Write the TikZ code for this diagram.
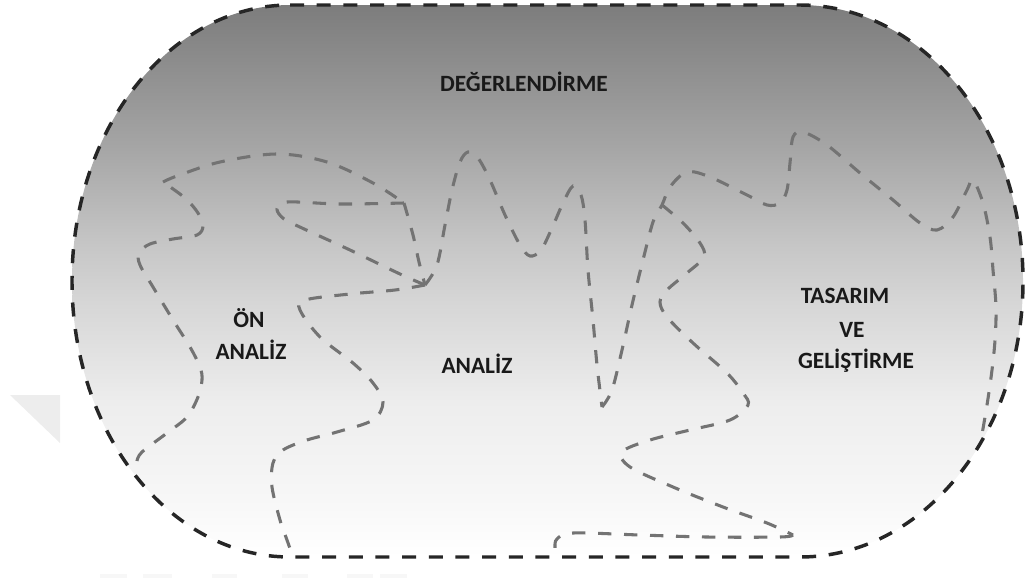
\documentclass[tikz,border=0pt]{standalone}
\usepackage{fontspec}
\setmainfont{Carlito}

% grey-to-white vertical fill of the stadium
\pgfdeclareverticalshading{stadiumfill}{100bp}{%
  color(0bp)=(white); color(25bp)=(white); color(30bp)=(black!3);
  color(39bp)=(black!7); color(48bp)=(black!16); color(53bp)=(black!22);
  color(62bp)=(black!35); color(74bp)=(black!50); color(75bp)=(black!51);
  color(100bp)=(black!51)}

% outline of the rounded (stadium) frame, in pixel-like units
\newcommand\stadiumoutline{(290,5) -- (800,5)
  arc[start angle=-90, end angle=90, x radius=223, y radius=276] -- (290,557)
  arc[start angle=90, end angle=270, x radius=218, y radius=276] -- cycle}

\tikzset{
  rim/.style={draw=black!85, line width=2.6pt, dash pattern=on 10.5pt off 9.5pt},
  trail/.style={draw=black!55, line width=2.3pt, dash pattern=on 10pt off 9.5pt,
                smooth, tension=0.55},
  lbl/.style={font=\bfseries\fontsize{17.5}{21}\selectfont, text=black!90,
              inner sep=0pt, anchor=base},
  faint/.style={fill=black!7, draw=none},
}

\begin{document}
\begin{tikzpicture}[x=0.75pt, y=-0.75pt]
\useasboundingbox (0,0) rectangle (1027,578);

% faint background marks
\fill[faint] (10,395) -- (60,395) -- (60,443) -- cycle;
\foreach \a/\b in {100/127,143/172,212/237,282/308,347/373,380/407}
  \fill[black!3] (\a,574) rectangle (\b,578);

% frame fill
\shade[shading=stadiumfill] \stadiumoutline;

% junction points of the region borders
\coordinate (kA) at (163,182);
\coordinate (kB) at (404,203);
\coordinate (kJ) at (425,285);
\coordinate (kV) at (602,407);
\coordinate (kS) at (662,205);
\coordinate (kT) at (793,535);

% region borders (grey dashed)
\draw[trail] plot coordinates {(137,461) (142,452) (167,433) (187,417) (198,397)
  (202,380) (200,367) (190,347) (173,320) (153,287) (140,265) (139,253) (150,244)
  (173,239) (197,235) (203,226) (198,213) (185,198) (kA)};
\draw[trail] plot coordinates {(kA) (177,176) (220,162) (277,154) (327,162)
  (373,183) (kB)};
\draw[trail] plot coordinates {(kB) (340,204) (287,202) (277,209) (284,219)
  (302,228) (350,250) (400,274) (kJ)};
\draw[trail] plot coordinates {(kB) (413,235) (419,262) (kJ)};
\draw[trail] plot coordinates {(kJ) (395,290) (350,294) (305,300) (300,310)
  (320,337) (353,363) (373,383) (383,402) (373,420) (337,432) (307,440) (283,450)
  (273,463) (272,487) (280,520) (287,540) (293,557)};
\draw[trail] plot coordinates {(kJ) (437,265) (445,225) (452,190) (460,162)
  (468,152) (478,158) (490,180) (505,215) (520,245) (530,256) (541,250) (552,228)
  (563,203) (573,186) (581,195) (585,220) (588,270) (593,320) (597,365) (kV)};
\draw[trail] plot coordinates {(kV) (612,390) (622,350) (632,305) (643,260)
  (653,222) (kS) (670,187) (687,172) (710,177) (747,195) (767,205) (780,203)
  (787,190) (790,163) (793,137) (803,132) (827,145) (860,173) (893,200) (920,223)
  (937,230) (953,217) (967,190) (973,180) (983,203) (990,237) (993,270) (996,307)
  (995,340) (992,370) (987,405) (981,440)};
\draw[trail] plot coordinates {(kS) (683,223) (700,243) (704,257) (687,273)
  (667,290) (660,302) (667,317) (693,343) (727,373) (743,393) (748,405) (730,420)
  (690,430) (650,440) (622,452) (630,467) (673,487) (723,507) (767,523) (kT)};
\draw[trail] plot coordinates {(kT) (780,537) (707,537) (640,535) (573,533)
  (557,539) (555,548) (556,557)};

% frame border
\draw[rim] \stadiumoutline;

% labels
\node[lbl] (evalTxt) at (524,91) {DEĞERLENDİRME};
\node[lbl] (preA) at (249,327) {ÖN};
\node[lbl] (preB) at (251,359) {ANALİZ};
\node[lbl] (midTxt) at (477,373) {ANALİZ};
\node[lbl] (desA) at (845,303) {TASARIM};
\node[lbl] (desB) at (852,337) {VE};
\node[lbl] (desC) at (856,368) {GELİŞTİRME};
\end{tikzpicture}
\end{document}
